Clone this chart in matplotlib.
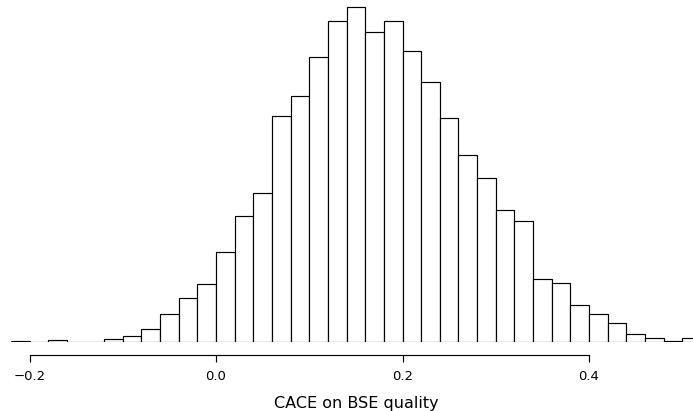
import matplotlib
matplotlib.use("Agg")
import matplotlib.pyplot as plt
import numpy as np

# Histogram bins (width 0.02) and counts
bin_start = -0.22
bin_width = 0.02
counts = [1, 0, 2, 0, 0, 3, 6, 12, 26, 40, 53, 82, 115, 136, 206, 224, 259,
          292, 305, 282, 292, 265, 237, 204, 170, 149, 120, 110, 58, 54, 34,
          26, 18, 8, 4, 1, 4]
tick_values = [-0.2, 0.0, 0.2, 0.4]
tick_labels = ["\u22120.2", "0.0", "0.2", "0.4"]
xlabel = "CACE on BSE quality"

W, H = 693, 411
DPI = 100
fig = plt.figure(figsize=(W / DPI, H / DPI), dpi=DPI)
fig.patch.set_facecolor("white")

base_px = 342.3          # baseline y (pixels from top)
px_per_count = 1.1
ax = fig.add_axes([0, (H - base_px) / H, 1, base_px / H])
edges = bin_start + bin_width * np.arange(len(counts))
ax.bar(edges, counts, width=bin_width, align="edge", facecolor="white",
       edgecolor="black", linewidth=0.85)

# x mapping: 0.0 at 216 px, 932.5 px per unit
x0 = -216 / 932.5
x1 = (W - 216) / 932.5
ax.set_xlim(x0, x1)
ax.set_ylim(0, base_px / px_per_count)

for s in ["left", "right", "top"]:
    ax.spines[s].set_visible(False)
ax.spines["bottom"].set_position(("outward", 9.1))
ax.spines["bottom"].set_bounds(tick_values[0], tick_values[-1])
ax.spines["bottom"].set_linewidth(0.85)
ax.set_yticks([])
ax.set_xticks(tick_values)
ax.set_xticklabels(tick_labels, fontfamily="DejaVu Sans", fontsize=9.5)
ax.tick_params(axis="x", length=5, width=0.85, pad=5.5, direction="out")
ax.patch.set_alpha(0)

fig.text(356 / W, (H - 408.3) / H, xlabel, ha="center", va="baseline",
         fontfamily="DejaVu Sans", fontsize=11.5)

fig.savefig("out.png", dpi=DPI)
